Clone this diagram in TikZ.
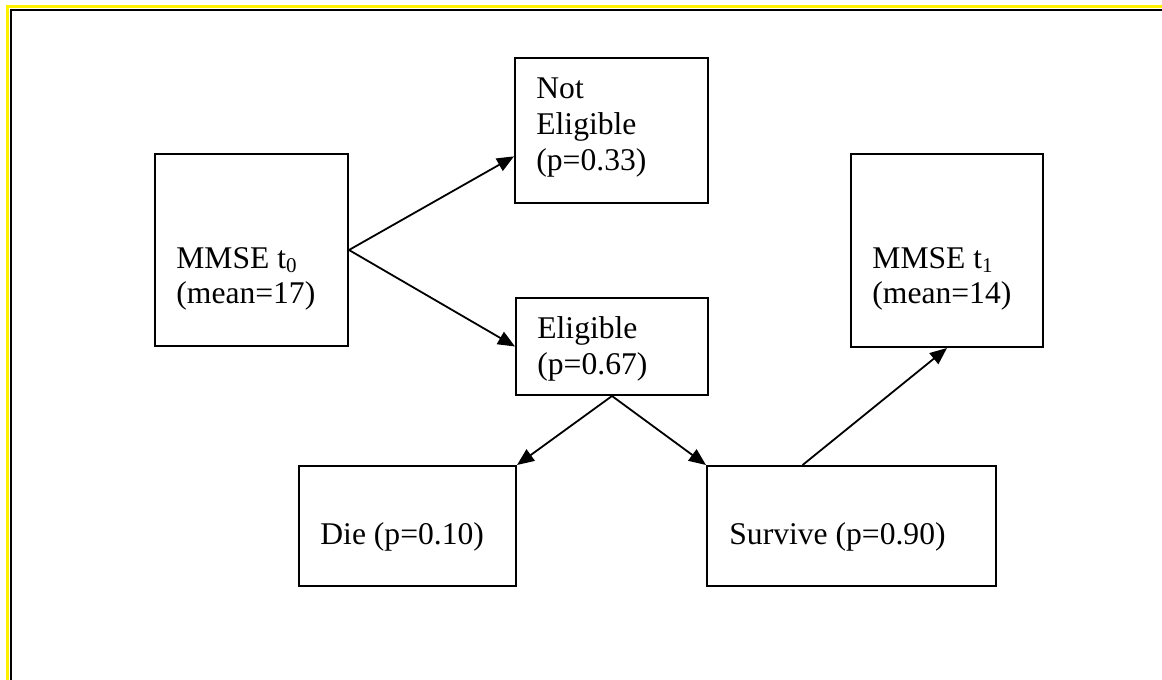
\documentclass[tikz,border=0pt]{standalone}
\usepackage{fontspec}
\setmainfont{Liberation Serif}
\usetikzlibrary{arrows.meta,calc}
\newcommand\mysubs[1]{\raisebox{-2pt}{\fontsize{10.5pt}{12pt}\selectfont #1}}
\tikzset{
  box/.style={draw, line width=1pt, rectangle, inner sep=0pt},
  txt/.style={anchor=base west, inner sep=0pt, font=\fontsize{15.8pt}{17.5pt}\selectfont},
  arr/.style={line width=0.9pt, -{Triangle[length=8.5pt,width=7pt]}},
}
\begin{document}
\begin{tikzpicture}[x=0.5pt,y=-0.5pt]
\useasboundingbox (0,0) rectangle (1162,680);
\fill[white] (0,0) rectangle (1162,680);
% frame
\draw[yellow, line width=1.5pt] (7.5,680) -- (7.5,6.5) -- (1162,6.5);
\draw[black, line width=1pt] (10.5,680) -- (10.5,9.5) -- (1162,9.5);
% boxes
\node[box, minimum width=96.5pt, minimum height=96pt] (m0) at (251.5,250) {};
\node[box, minimum width=96.5pt, minimum height=72.5pt] (ne) at (611.5,130.5) {};
\node[box, minimum width=96pt, minimum height=48.5pt] (el) at (612,346.5) {};
\node[box, minimum width=96pt, minimum height=96.5pt] (m1) at (947,250.5) {};
\node[box, minimum width=108.5pt, minimum height=60pt] (die) at (407.5,526) {};
\node[box, minimum width=144.5pt, minimum height=60pt] (sv) at (851.5,526) {};
% texts
\node[txt] (m0a) at (176,268) {MMSE t\mysubs{0}};
\node[txt] (m0b) at (176,303) {(mean=17)};
\node[txt] (nea) at (536,98) {Not};
\node[txt] (neb) at (536,134) {Eligible};
\node[txt] (nec) at (536,170) {(p=0.33)};
\node[txt] (ela) at (537,338) {Eligible};
\node[txt] (elb) at (537,374) {(p=0.67)};
\node[txt] (m1a) at (872,268) {MMSE t\mysubs{1}};
\node[txt] (m1b) at (872,303) {(mean=14)};
\node[txt] (diea) at (320,544) {Die (p=0.10)};
\node[txt] (sva) at (729,544) {Survive (p=0.90)};
% connectors
\coordinate (neIn) at ($(ne.north west)!0.676!(ne.south west)$);
\coordinate (svOut) at ($(sv.north west)!0.332!(sv.north east)$);
\draw[arr] (m0.east) -- (neIn);
\draw[arr] (m0.east) -- (el.west);
\draw[arr] (el.south) -- (die.north east);
\draw[arr] (el.south) -- (sv.north west);
\draw[arr] (svOut) -- (m1.south);
\end{tikzpicture}
\end{document}
